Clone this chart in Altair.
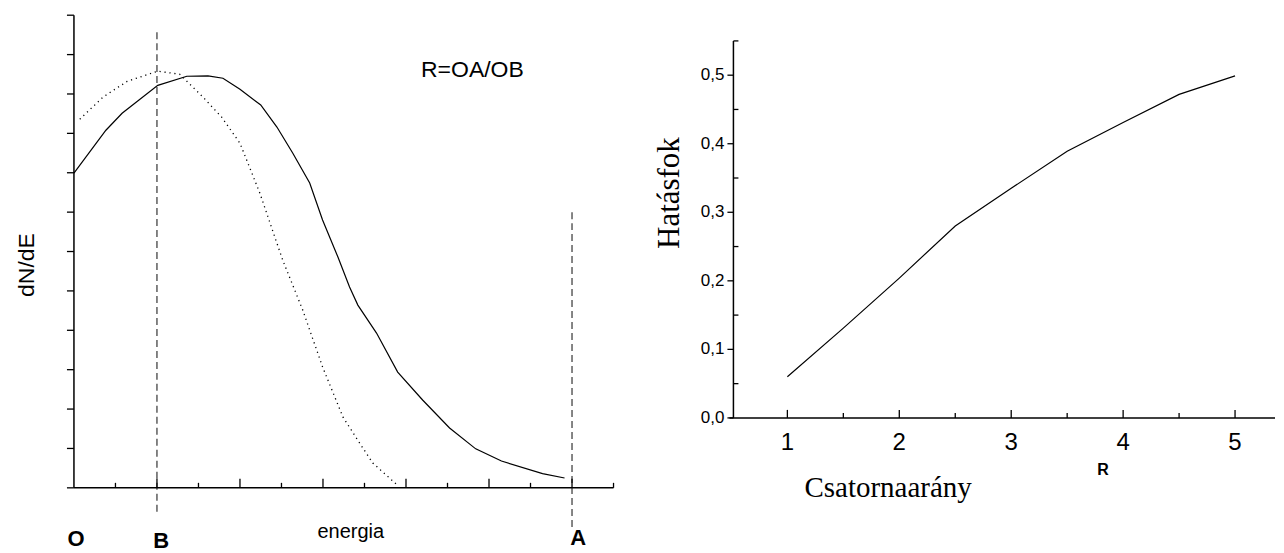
import altair as alt
import pandas as pd

# ---------------- data: left panel (energy spectrum) ----------------
solid_x = [0, 0.77, 1.16, 2.02, 2.72, 3.23, 3.59, 4.0, 4.5, 4.89, 5.27, 5.68, 5.99,
           6.36, 6.64, 6.84, 7.29, 7.80, 8.40, 9.05, 9.68, 10.30, 11.29, 11.82]
solid_y = [7.99, 9.08, 9.51, 10.22, 10.45, 10.46, 10.40, 10.12, 9.72, 9.16, 8.50, 7.74, 6.80,
           5.86, 5.10, 4.64, 3.93, 2.94, 2.23, 1.52, 0.99, 0.68, 0.36, 0.25]
dotted_x = [0.14, 0.70, 1.28, 2.02, 2.55, 3.11, 3.56, 4.0, 4.48, 5.03, 5.51, 5.99, 6.48, 6.88, 7.2, 7.78]
dotted_y = [9.36, 9.92, 10.32, 10.58, 10.50, 9.92, 9.41, 8.75, 7.48, 5.78, 4.52, 3.07, 1.80, 1.14, 0.63, 0.08]
marker_x = [2, 12]          # B and A
marker_top = [11.57, 7.0]
marker_bottom = [-0.63, -1.0]
left_y_ticks = list(range(0, 13))
left_x_major = [2, 4, 6, 8, 10, 12]
left_x_minor = [1, 3, 5, 7, 9, 11, 13]

# ---------------- data: right panel (efficiency) ----------------
ratio = [1, 1.5, 2, 2.5, 3, 3.5, 4, 4.5, 5]
efficiency = [0.060, 0.131, 0.204, 0.280, 0.335, 0.389, 0.431, 0.472, 0.499]
right_y_major = [0.0, 0.1, 0.2, 0.3, 0.4, 0.5]
right_y_labels = ["0,0", "0,1", "0,2", "0,3", "0,4", "0,5"]
right_y_minor = [0.05, 0.15, 0.25, 0.35, 0.45]
right_x_major = [1, 2, 3, 4, 5]
right_x_labels = ["1", "2", "3", "4", "5"]
right_x_minor = [1.5, 2.5, 3.5, 4.5]

SANS = "Liberation Sans, Arial, sans-serif"
SERIF = "Liberation Serif, Times New Roman, serif"

W1, H1 = 540, 473
W2, H2 = 542, 473
xs1 = alt.Scale(domain=[0, 13], nice=False, zero=False)
ys1 = alt.Scale(domain=[0, 12], nice=False, zero=False)
xs2 = alt.Scale(domain=[0.518, 5.357], nice=False, zero=False)
ys2 = alt.Scale(domain=[-0.102, 0.5875], nice=False, zero=False)


def X(f, s):
    return alt.X(f, type="quantitative", scale=s, axis=None)


def Y(f, s):
    return alt.Y(f, type="quantitative", scale=s, axis=None)


one = pd.DataFrame({"a": [0]})

# ---------------- left panel ----------------
anchor = alt.Chart(one).mark_rect(opacity=0).encode(
    x=alt.value(-66), x2=alt.value(-65), y=alt.value(-7), y2=alt.value(-6))

yaxis1 = alt.Chart(pd.DataFrame({"y0": [0], "y1": [12]})).mark_rule(
    color="black", strokeWidth=1.5).encode(x=alt.value(0), y=Y("y0", ys1), y2="y1")
yticks1 = alt.Chart(pd.DataFrame({"t": left_y_ticks})).mark_rule(
    color="black", strokeWidth=1.3).encode(x=alt.value(-7), x2=alt.value(0), y=Y("t", ys1))
xaxis1 = alt.Chart(pd.DataFrame({"v": [0]})).mark_rule(
    color="black", strokeWidth=1.5).encode(y=Y("v", ys1), x=alt.value(0), x2=alt.value(W1))
xmaj1 = alt.Chart(pd.DataFrame({"t": left_x_major})).mark_rule(
    color="black", strokeWidth=1.3).encode(x=X("t", xs1), y=alt.value(H1 - 9), y2=alt.value(H1))
xmin1 = alt.Chart(pd.DataFrame({"t": left_x_minor})).mark_rule(
    color="black", strokeWidth=1.3).encode(x=X("t", xs1), y=alt.value(H1 - 5), y2=alt.value(H1))

solid = alt.Chart(pd.DataFrame({"x": solid_x, "y": solid_y})).mark_line(
    color="black", strokeWidth=1.2).encode(x=X("x", xs1), y=Y("y", ys1), order="x:Q")
dotted = alt.Chart(pd.DataFrame({"x": dotted_x, "y": dotted_y})).mark_line(
    color="black", strokeWidth=1.3, strokeDash=[1.2, 3.8]).encode(
    x=X("x", xs1), y=Y("y", ys1), order="x:Q")
markers = alt.Chart(pd.DataFrame({"x": marker_x, "top": marker_top, "bot": marker_bottom})).mark_rule(
    color="#222222", strokeWidth=1.1, strokeDash=[7, 4]).encode(
    x=X("x", xs1), y=Y("top", ys1), y2="bot")

formula = alt.Chart(pd.DataFrame({"x": [9.6], "y": [10.6], "lab": ["R=OA/OB"]})).mark_text(
    font=SANS, fontSize=23, align="center", baseline="middle", color="black").encode(
    x=X("x", xs1), y=Y("y", ys1), text=alt.Text("lab:N"))
ylabel1 = alt.Chart(pd.DataFrame({"lab": ["dN/dE"]})).mark_text(
    font=SANS, fontSize=23, angle=270, align="center", baseline="middle", color="black").encode(
    x=alt.value(-47), y=alt.value(250), text=alt.Text("lab:N"))
pt_labels = alt.Chart(pd.DataFrame({"x": [0.05, 2.1, 12.15], "lab": ["O", "B", "A"],
                                    "yy": [531, 533, 530]})).mark_text(
    font=SANS, fontSize=22, fontWeight="bold", align="center", baseline="alphabetic", color="black").encode(
    x=X("x", xs1), y=alt.Y("yy:Q", scale=None, axis=None), text=alt.Text("lab:N"))
energia = alt.Chart(pd.DataFrame({"x": [6.67], "lab": ["energia"]})).mark_text(
    font=SANS, fontSize=20, align="center", baseline="middle", color="black").encode(
    x=X("x", xs1), y=alt.value(517), text=alt.Text("lab:N"))

left = alt.layer(anchor, markers, yaxis1, yticks1, xaxis1, xmaj1, xmin1, dotted, solid,
                 formula, ylabel1, pt_labels, energia).properties(width=W1, height=H1)

# ---------------- right panel ----------------
yaxis2 = alt.Chart(pd.DataFrame({"y0": [0.0], "y1": [0.55]})).mark_rule(
    color="black", strokeWidth=1.5).encode(x=alt.value(0), y=Y("y0", ys2), y2="y1")
topcap = alt.Chart(pd.DataFrame({"t": [0.55]})).mark_rule(
    color="black", strokeWidth=1.3).encode(x=alt.value(0), x2=alt.value(5), y=Y("t", ys2))
ymaj2 = alt.Chart(pd.DataFrame({"t": right_y_major})).mark_rule(
    color="black", strokeWidth=1.3).encode(x=alt.value(-6), x2=alt.value(0), y=Y("t", ys2))
ymin2 = alt.Chart(pd.DataFrame({"t": right_y_minor})).mark_rule(
    color="black", strokeWidth=1.3).encode(x=alt.value(0), x2=alt.value(5), y=Y("t", ys2))
ylab2 = alt.Chart(pd.DataFrame({"t": right_y_major, "lab": right_y_labels})).mark_text(
    font=SANS, fontSize=17, align="right", baseline="middle", color="black", dx=-9).encode(
    x=alt.value(0), y=Y("t", ys2), text=alt.Text("lab:N"))
xaxis2 = alt.Chart(pd.DataFrame({"v": [0.0]})).mark_rule(
    color="black", strokeWidth=1.5).encode(y=Y("v", ys2), x=alt.value(-4), x2=alt.value(W2))
xmaj2 = alt.Chart(pd.DataFrame({"t": right_x_major})).mark_rule(
    color="black", strokeWidth=1.3).encode(x=X("t", xs2), y=alt.value(395), y2=alt.value(403))
xmin2 = alt.Chart(pd.DataFrame({"t": right_x_minor})).mark_rule(
    color="black", strokeWidth=1.3).encode(x=X("t", xs2), y=alt.value(398), y2=alt.value(403))
xlab2 = alt.Chart(pd.DataFrame({"pos": right_x_major, "tick": right_x_labels})).mark_text(
    font=SANS, fontSize=24, align="center", baseline="middle", color="black").encode(
    x=X("pos", xs2), y=alt.value(428), text=alt.Text("tick:N"))
curve = alt.Chart(pd.DataFrame({"r": ratio, "e": efficiency})).mark_line(
    color="black", strokeWidth=1.2).encode(x=X("r", xs2), y=Y("e", ys2), order="r:Q")
rlab = alt.Chart(pd.DataFrame({"x": [3.82], "lab": ["R"]})).mark_text(
    font=SANS, fontSize=16, fontWeight="bold", align="center", baseline="middle", color="black").encode(
    x=X("x", xs2), y=alt.value(455), text=alt.Text("lab:N"))
xtitle2 = alt.Chart(pd.DataFrame({"x": [1.9], "lab": ["Csatornaarány"]})).mark_text(
    font=SERIF, fontSize=29, align="center", baseline="middle", color="black").encode(
    x=X("x", xs2), y=alt.value(473), text=alt.Text("lab:N"))
ytitle2 = alt.Chart(pd.DataFrame({"lab": ["Hatásfok"]})).mark_text(
    font=SERIF, fontSize=31, angle=270, align="center", baseline="middle", color="black").encode(
    x=alt.value(-63), y=alt.value(178), text=alt.Text("lab:N"))

right = alt.layer(yaxis2, topcap, ymaj2, ymin2, ylab2, xaxis2, xmaj2, xmin2, curve,
                  rlab, xtitle2, ytitle2, xlab2).properties(width=W2, height=H2)

chart = alt.hconcat(left, right, spacing=120, bounds="flush").properties(
    padding=0, background="white").configure_view(strokeWidth=0)

chart.save("out.html", embed_options={"renderer": "svg", "actions": False})
